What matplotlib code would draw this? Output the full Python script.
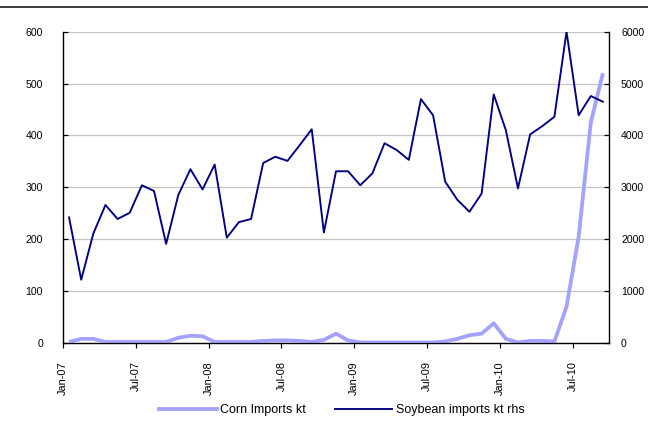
import matplotlib
matplotlib.use("Agg")
import matplotlib.pyplot as plt
from matplotlib.lines import Line2D

plt.rcParams['font.family'] = ['Liberation Sans', 'DejaVu Sans']

months = ["Jan-07","Feb-07","Mar-07","Apr-07","May-07","Jun-07","Jul-07","Aug-07","Sep-07","Oct-07","Nov-07","Dec-07",
          "Jan-08","Feb-08","Mar-08","Apr-08","May-08","Jun-08","Jul-08","Aug-08","Sep-08","Oct-08","Nov-08","Dec-08",
          "Jan-09","Feb-09","Mar-09","Apr-09","May-09","Jun-09","Jul-09","Aug-09","Sep-09","Oct-09","Nov-09","Dec-09",
          "Jan-10","Feb-10","Mar-10","Apr-10","May-10","Jun-10","Jul-10","Aug-10","Sep-10"]

corn_kt = [2, 8, 8, 2, 2, 2, 2, 2, 2, 10, 14, 13,
           2, 2, 2, 2, 4, 5, 5, 4, 2, 6, 18, 5,
           1, 1, 1, 1, 1, 1, 1, 3, 8, 15, 18, 38,
           8, 1, 4, 4, 3, 70, 205, 425, 520]

soy_kt = [2420, 1220, 2110, 2660, 2390, 2510, 3040, 2930, 1910, 2850, 3350, 2960,
          3440, 2030, 2330, 2390, 3470, 3590, 3510, 3810, 4120, 2130, 3310, 3310,
          3040, 3270, 3850, 3720, 3530, 4700, 4390, 3110, 2760, 2530, 2880, 4790,
          4100, 2980, 4020, 4180, 4360, 6000, 4390, 4760, 4650]

tick_labels = ["Jan-07","Jul-07","Jan-08","Jul-08","Jan-09","Jul-09","Jan-10","Jul-10"]
left_ticks = [0, 100, 200, 300, 400, 500, 600]
right_ticks = [0, 1000, 2000, 3000, 4000, 5000, 6000]

corn_color = '#A3A3FF'
soy_color = '#000080'

fig = plt.figure(figsize=(9, 6), dpi=72)
ax = fig.add_axes([63/648, 1-343/432, (609-63)/648, (343-31.7)/432])
ax2 = ax.twinx()

x = [i + 0.5 for i in range(len(months))]
ax.plot(x, corn_kt, color=corn_color, lw=3.8, solid_capstyle='butt', zorder=3)
ax2.plot(x, soy_kt, color=soy_color, lw=1.9, zorder=3)

ax.set_xlim(0, len(months))
ax.set_ylim(0, 600)
ax2.set_ylim(0, 6000)

ax.set_yticks(left_ticks)
ax2.set_yticks(right_ticks)
ax.set_yticklabels([str(v) for v in left_ticks])
ax2.set_yticklabels([str(v) for v in right_ticks])

tpos = [months.index(t) for t in tick_labels]
ax.set_xticks(tpos)
ax.set_xticklabels(tick_labels, rotation=90)

ax.grid(axis='y', color='#C4C4C4', lw=1.2)
ax.set_axisbelow(True)

for a in (ax, ax2):
    a.spines['top'].set_visible(False)
    for s in ('left', 'right', 'bottom'):
        a.spines[s].set_color('#000000')
        a.spines[s].set_linewidth(1.2)

ax.tick_params(axis='y', direction='in', length=5, width=1.2, labelsize=10.5, pad=20, colors='#000000')
ax2.tick_params(axis='y', direction='in', length=5, width=1.2, labelsize=10.5, pad=12, colors='#000000')
ax.tick_params(axis='x', direction='out', length=5, width=1.2, labelsize=11, pad=13)

# top separator line
fig.add_artist(Line2D([0, 1], [1-7/432, 1-7/432], transform=fig.transFigure, color='#404040', lw=2))

handles = [Line2D([], [], color=corn_color, lw=3.8), Line2D([], [], color=soy_color, lw=1.9)]
fig.legend(handles, ["Corn Imports kt", "Soybean imports kt rhs"], loc='center',
           bbox_to_anchor=(342/648, 1-410/432), ncol=2, frameon=False, fontsize=12.5,
           handlelength=4.6, handletextpad=0.3, columnspacing=2.3)

fig.savefig('out.png', dpi=72)
